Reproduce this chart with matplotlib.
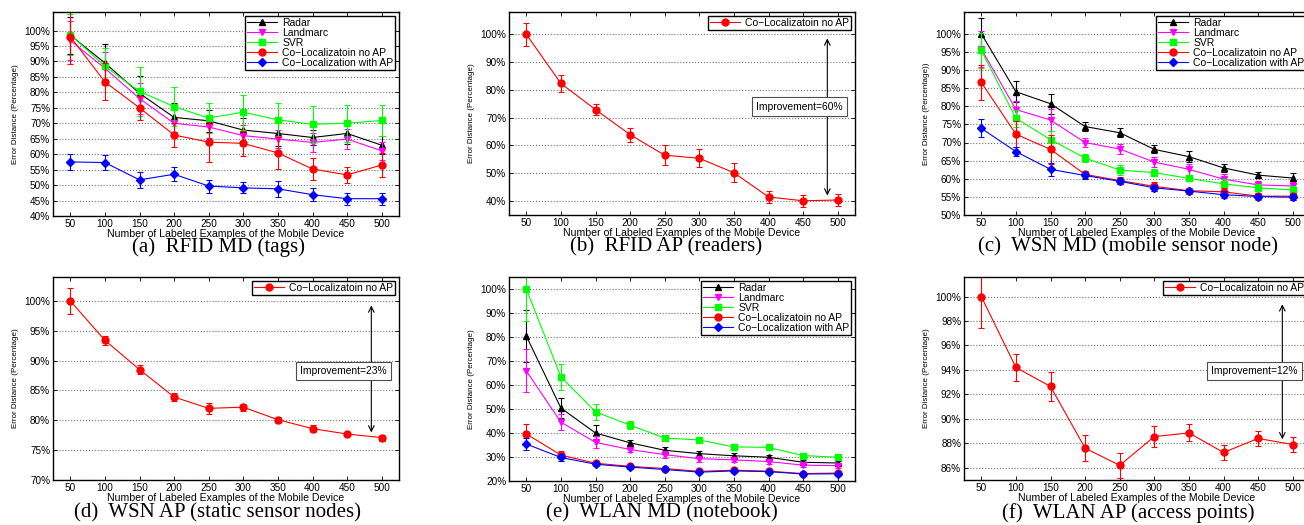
import matplotlib
matplotlib.use('Agg')
import matplotlib.pyplot as plt
from matplotlib.ticker import FuncFormatter

plt.rcParams['font.family'] = ['Liberation Sans', 'DejaVu Sans']

# number of labeled examples
x = [50, 100, 150, 200, 250, 300, 350, 400, 450, 500]

# (a) RFID MD (tags)
a_radar = [98.5, 89.5, 79.7, 71.9, 70.8, 67.8, 66.7, 65.4, 66.7, 62.9]
a_radar_err = [6, 6, 5.5, 4.6, 3.5, 4, 4, 2.5, 3.5, 3]
a_landmarc = [96.8, 87.8, 78.0, 70.0, 68.8, 66.0, 64.9, 63.8, 64.9, 61.1]
a_landmarc_err = [6.2, 5.4, 5, 4.5, 3.5, 3.5, 3, 3, 3.3, 3]
a_svr = [98.7, 88.4, 80.3, 75.4, 71.7, 73.6, 71.1, 69.7, 70.0, 70.9]
a_svr_err = [6.5, 6, 8, 6.2, 5, 5.7, 5.5, 6, 6, 5]
a_noap = [98.0, 83.4, 75.0, 66.2, 63.9, 63.5, 60.4, 55.2, 53.3, 56.5]
a_noap_err = [8.7, 6, 3.8, 4, 6.4, 4, 5.3, 3.7, 2.6, 3.8]
a_withap = [57.5, 57.3, 51.7, 53.5, 49.7, 49.1, 48.8, 46.9, 45.6, 45.6]
a_withap_err = [2.5, 2.4, 2.5, 2.3, 2.1, 1.8, 2.5, 2, 2, 2]

# (b) RFID AP (readers)
b_noap = [100, 82.3, 72.9, 63.9, 56.5, 55.4, 50.2, 41.5, 40.1, 40.4]
b_noap_err = [4.2, 3.1, 1.9, 2.5, 3.5, 3.2, 3.5, 2.1, 2.1, 2.0]

# (c) WSN MD (mobile sensor node)
c_radar = [100, 84.0, 80.7, 74.4, 72.7, 68.1, 66.1, 63.0, 61.0, 60.2]
c_radar_err = [4.4, 2.9, 2.7, 1.3, 1.3, 1.1, 1.5, 1.2, 0.8, 1.5]
c_landmarc = [95.8, 79.1, 76.2, 70.0, 68.2, 64.6, 62.6, 59.9, 58.3, 58.0]
c_landmarc_err = [5, 2.3, 3, 1.3, 1.3, 1.3, 1.5, 1.5, 1.0, 1.0]
c_svr = [95.4, 76.7, 70.8, 65.7, 62.4, 61.7, 60.1, 58.6, 57.5, 56.9]
c_svr_err = [4.8, 2.3, 2.5, 1.2, 1.3, 1.0, 0.8, 1.2, 1.0, 1.0]
c_noap = [86.6, 72.3, 68.1, 61.2, 59.5, 57.9, 56.7, 56.4, 55.2, 55.2]
c_noap_err = [4.8, 3.6, 3.9, 1.0, 1.0, 1.2, 0.8, 1.0, 1.0, 1.0]
c_withap = [73.9, 67.5, 62.6, 60.9, 59.3, 57.5, 56.6, 55.6, 55.1, 54.9]
c_withap_err = [2.5, 1.3, 1.8, 1.0, 0.8, 0.8, 0.5, 1.0, 0.8, 0.8]

# (d) WSN AP (static sensor nodes)
d_noap = [100, 93.4, 88.5, 83.9, 82.0, 82.2, 80.1, 78.6, 77.7, 77.1]
d_noap_err = [2.2, 0.8, 0.8, 0.7, 0.9, 0.6, 0.5, 0.6, 0.4, 0.5]

# (e) WLAN MD (notebook)
e_radar = [80.4, 50.4, 40.0, 35.9, 32.8, 31.4, 30.5, 29.9, 27.8, 27.5]
e_radar_err = [10.8, 4, 3.3, 1.0, 1.5, 1.0, 1.2, 1.0, 1.0, 1.0]
e_landmarc = [65.9, 44.5, 36.1, 33.1, 31.0, 29.3, 28.8, 28.1, 26.6, 26.4]
e_landmarc_err = [9, 3.4, 2.5, 1.2, 1.3, 1.2, 1.0, 1.0, 0.7, 0.8]
e_svr = [100, 63.4, 48.8, 43.3, 37.9, 37.1, 34.2, 34.0, 30.6, 29.9]
e_svr_err = [13.3, 5.5, 3.3, 1.7, 1.0, 1.0, 1.3, 1.0, 0.6, 0.5]
e_noap = [39.6, 30.8, 27.4, 26.1, 25.2, 24.0, 24.5, 24.1, 23.1, 23.3]
e_noap_err = [4.3, 1.5, 0.8, 0.6, 0.6, 0.5, 0.6, 0.5, 0.5, 0.5]
e_withap = [35.4, 29.8, 27.0, 25.8, 24.8, 23.7, 24.2, 23.9, 22.9, 23.0]
e_withap_err = [2.5, 1.3, 0.8, 0.6, 0.6, 0.5, 0.5, 0.5, 0.5, 0.5]

# (f) WLAN AP (access points)
f_noap = [100, 94.2, 92.65, 87.6, 86.2, 88.55, 88.85, 87.25, 88.4, 87.9]
f_noap_err = [2.6, 1.1, 1.15, 1.05, 1.0, 0.85, 0.7, 0.6, 0.6, 0.6]

names = ['Radar', 'Landmarc', 'SVR', 'Co\u2212Localizatoin no AP', 'Co\u2212Localization with AP']
colors = ['black', '#ff00ff', '#00ff00', '#ff0000', '#0000ff']
markers = ['^', 'v', 's', 'o', 'D']
msizes = [5, 5, 4.5, 5, 4]

W, H = 1304, 525
fig = plt.figure(figsize=(W / 100, H / 100), dpi=100)

def make_ax(left, top, bottom, ylim, ystep):
    ax = fig.add_axes([left / W, 1 - bottom / H, 346 / W, (bottom - top) / H])
    ax.set_xlim(25, 525)
    ax.set_ylim(*ylim)
    ax.set_xticks(x)
    yt = []
    v = ystep[0]
    while v <= 100.001:
        yt.append(v)
        v += ystep[1]
    ax.set_yticks(yt)
    ax.yaxis.set_major_formatter(FuncFormatter(lambda v, p: '%d%%' % round(v)))
    ax.tick_params(direction='in', top=True, right=True, labelsize=7.2, length=3, width=0.6, pad=2)
    ax.grid(axis='y', linestyle=':', color='0.45', linewidth=0.8)
    ax.set_axisbelow(True)
    for s in ax.spines.values():
        s.set_linewidth(1.0)
    ax.set_xlabel('Number of Labeled Examples of the Mobile Device', fontsize=7.6, labelpad=0)
    return ax

def draw(ax, series, errs, idx):
    for s, e, i in zip(series, errs, idx):
        ax.errorbar(x, s, yerr=e, fmt='none', ecolor=colors[i],
                    elinewidth=0.8, capsize=2.5, capthick=0.8)
        ax.plot(x, s, color=colors[i], marker=markers[i], markersize=msizes[i],
                linewidth=0.8, label=names[i])
    leg = ax.legend(loc='upper right', fontsize=7.5, labelspacing=0.0, handlelength=2.9,
                    handletextpad=0.5, borderpad=0.2, borderaxespad=0.35, fancybox=False,
                    framealpha=1, edgecolor='black')
    leg.get_frame().set_linewidth(1.0)

def improve(ax, ytop, ybot, ytext, txt):
    ax.annotate('', xy=(485, ytop), xytext=(485, ybot),
                arrowprops=dict(arrowstyle='<->', color='black', lw=0.8))
    ax.text(445, ytext, txt, fontsize=7.4, ha='center', va='center',
            bbox=dict(boxstyle='square,pad=0.4', fc='white', ec='0.3', lw=0.8))

# top row
ax = make_ax(53, 12, 216, (40, 106), (40, 5))
draw(ax, [a_radar, a_landmarc, a_svr, a_noap, a_withap],
     [a_radar_err, a_landmarc_err, a_svr_err, a_noap_err, a_withap_err], [0, 1, 2, 3, 4])
ax.set_ylabel('Error Distance (Percentage)', fontsize=5.8)

ax = make_ax(509, 12, 215, (35, 108), (40, 10))
draw(ax, [b_noap], [b_noap_err], [3])
improve(ax, 99.5, 41, 74, 'Improvement=60%')
ax.set_ylabel('Error Distance (Percentage)', fontsize=5.8)

ax = make_ax(964, 12, 215, (50, 106), (50, 5))
draw(ax, [c_radar, c_landmarc, c_svr, c_noap, c_withap],
     [c_radar_err, c_landmarc_err, c_svr_err, c_noap_err, c_withap_err], [0, 1, 2, 3, 4])
ax.set_ylabel('Error Distance (Percentage))', fontsize=5.8)

# bottom row
ax = make_ax(53, 277, 480, (70, 104), (70, 5))
draw(ax, [d_noap], [d_noap_err], [3])
improve(ax, 99.7, 77.5, 88.2, 'Improvement=23%')
ax.set_ylabel('Error Distance (Percentage)', fontsize=5.8)

ax = make_ax(509, 277, 481, (20, 105), (20, 10))
draw(ax, [e_radar, e_landmarc, e_svr, e_noap, e_withap],
     [e_radar_err, e_landmarc_err, e_svr_err, e_noap_err, e_withap_err], [0, 1, 2, 3, 4])
ax.set_ylabel('Error Distance (Percentage)', fontsize=5.8)

ax = make_ax(964, 277, 480, (85, 101.6), (86, 2))
draw(ax, [f_noap], [f_noap_err], [3])
improve(ax, 99.6, 88.1, 93.9, 'Improvement=12%')
ax.set_ylabel('Error Distance (Percentage)', fontsize=5.8)

# captions
caps = ['(a)  RFID MD (tags)', '(b)  RFID AP (readers)', '(c)  WSN MD (mobile sensor node)',
        '(d)  WSN AP (static sensor nodes)', '(e)  WLAN MD (notebook)', '(f)  WLAN AP (access points)']
cx = [218, 666, 1128, 218, 662, 1128]
cy = [247, 247, 247, 513, 513, 513]
for t, px, py in zip(caps, cx, cy):
    fig.text(px / W, 1 - py / H, t, ha='center', va='center', fontsize=15,
             family=['Liberation Serif', 'DejaVu Serif'])

fig.savefig('out.png', dpi=100)
